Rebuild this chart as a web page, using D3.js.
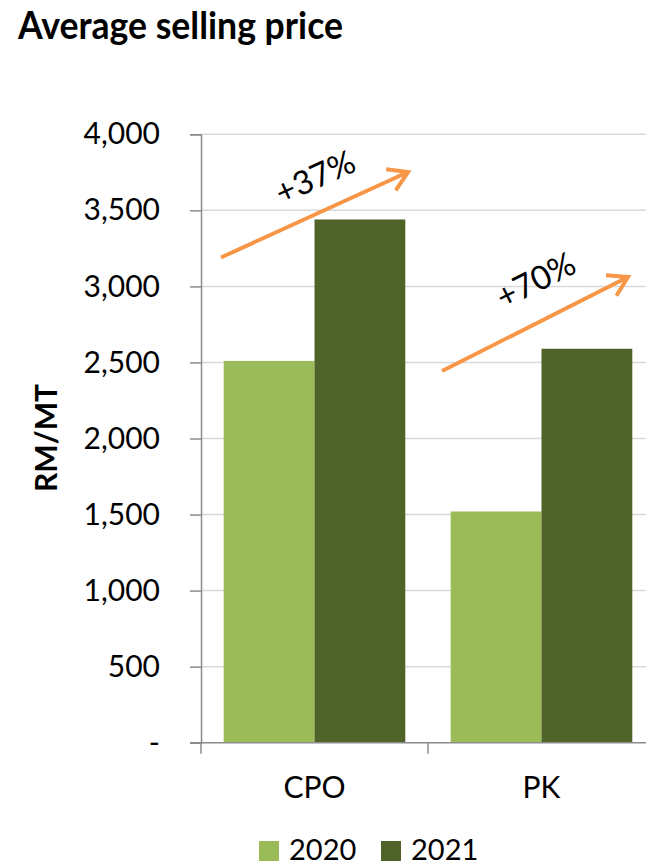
<!DOCTYPE html>
<html>
<head>
<meta charset="utf-8">
<script src="https://cdn.jsdelivr.net/npm/d3@7"></script>
<style>
  html, body { margin: 0; padding: 0; background: #fff; }
  svg { display: block; font-family: Lato, "Open Sans", sans-serif; }
</style>
</head>
<body>
<svg id="chart" width="646" height="866"></svg>
<script>
// Average selling price, RM per metric tonne
const categories = ["CPO", "PK"];
const years = ["2020", "2021"];
const values2020 = [2510, 1520];
const values2021 = [3440, 2590];
const yTicks = [0, 500, 1000, 1500, 2000, 2500, 3000, 3500, 4000];
const yTickLabels = ["-", "500", "1,000", "1,500", "2,000", "2,500", "3,000", "3,500", "4,000"];
const colors = ["#9bbb59", "#4f6228"];

// Growth arrows, anchored in data space: [category, fraction of band, value]
const arrows = [
  { from: ["CPO", 0.088, 3190], to: ["CPO", 0.912, 3752], labelLift: 39 },
  { from: ["PK", 0.062, 2444], to: ["PK", 0.881, 3062], labelLift: 45 }
];

const svg = d3.select("#chart");
const W = 646;

const y = d3.scaleLinear().domain([0, 4000]).range([742.7, 134.3]);
const x = d3.scaleBand().domain(categories).range([201, 655]).paddingInner(0).paddingOuter(0);
const xs = d3.scaleBand().domain(years).range([0, x.bandwidth()]).paddingInner(0).paddingOuter(0.25);

// Title
svg.append("text")
  .attr("x", 18).attr("y", 39)
  .attr("font-size", 38.5).attr("font-weight", 700)
  .attr("textLength", 325).attr("lengthAdjust", "spacingAndGlyphs")
  .attr("fill", "#000")
  .text("Average selling price");

// Gridlines
svg.append("g").selectAll("line")
  .data(yTicks.filter(d => d > 0))
  .join("line")
  .attr("x1", 201).attr("x2", W)
  .attr("y1", d => y(d)).attr("y2", d => y(d))
  .attr("stroke", "#d9d9d9").attr("stroke-width", 1.5);

// Y axis
const yAxis = d3.axisLeft(y).tickValues(yTicks)
  .tickFormat((d, i) => yTickLabels[i]).tickSize(11).tickPadding(30);
const gy = svg.append("g").attr("transform", "translate(201,0)").call(yAxis);
gy.select(".domain").attr("stroke", "#8c8c8c").attr("stroke-width", 1.5);
gy.selectAll(".tick line").attr("stroke", "#8c8c8c").attr("stroke-width", 1.5);
gy.selectAll(".tick text").attr("font-size", 30).attr("fill", "#000")
  .attr("font-family", "Lato, sans-serif");

// Y axis title
svg.append("text")
  .attr("transform", "translate(57,438) rotate(-90)")
  .attr("text-anchor", "middle")
  .attr("font-size", 30).attr("font-weight", 700)
  .text("RM/MT");

// Bars
const rows = categories.map((c, i) => ({ cat: c, vals: [values2020[i], values2021[i]] }));
const groups = svg.append("g").selectAll("g")
  .data(rows).join("g")
  .attr("transform", d => `translate(${x(d.cat)},0)`);
groups.selectAll("rect")
  .data(d => d.vals.map((v, j) => ({ year: years[j], v, j })))
  .join("rect")
  .attr("x", d => xs(d.year))
  .attr("width", xs.bandwidth())
  .attr("y", d => y(d.v))
  .attr("height", d => y(0) - y(d.v))
  .attr("fill", d => colors[d.j]);

// X axis
const gx = svg.append("g").attr("transform", `translate(0,${y(0)})`);
gx.append("line").attr("x1", 190).attr("x2", W).attr("y1", 0).attr("y2", 0)
  .attr("stroke", "#8c8c8c").attr("stroke-width", 1.5);
gx.selectAll(".cat-tick")
  .data([x.range()[0], ...categories.slice(1).map(c => x(c))])
  .join("line").attr("class", "cat-tick")
  .attr("x1", d => d).attr("x2", d => d).attr("y1", 0).attr("y2", 11)
  .attr("stroke", "#8c8c8c").attr("stroke-width", 1.5);
svg.append("g").selectAll("text")
  .data(categories).join("text")
  .attr("x", d => x(d) + xs(years[1]))
  .attr("y", 798)
  .attr("text-anchor", "middle")
  .attr("font-size", 30)
  .text(d => d);

// Growth arrows with percentage labels
const px = p => x(p[0]) + p[1] * x.bandwidth();
const py = p => y(p[2]);
const arrowG = svg.append("g");
arrows.forEach((a, i) => {
  const x1 = px(a.from), y1 = py(a.from), x2 = px(a.to), y2 = py(a.to);
  const ang = Math.atan2(y2 - y1, x2 - x1);
  const head = 22, spread = 0.55;
  const path = `M${x1},${y1}L${x2},${y2}` +
    `M${x2 - head * Math.cos(ang - spread)},${y2 - head * Math.sin(ang - spread)}L${x2},${y2}` +
    `L${x2 - head * Math.cos(ang + spread)},${y2 - head * Math.sin(ang + spread)}`;
  arrowG.append("path").attr("d", path)
    .attr("fill", "none").attr("stroke", "#f79646")
    .attr("stroke-width", 4).attr("stroke-linecap", "butt").attr("stroke-linejoin", "miter");
  const growth = Math.round((values2021[i] / values2020[i] - 1) * 100);
  const tx = (x1 + x2) / 2, ty = (y1 + y2) / 2 - a.labelLift;
  arrowG.append("text")
    .attr("transform", `translate(${tx},${ty}) rotate(${ang * 180 / Math.PI})`)
    .attr("text-anchor", "middle").attr("dominant-baseline", "central")
    .attr("font-size", 33)
    .text(`+${growth}%`);
});

// Legend
const legend = svg.append("g");
const legendX = [259, 381];
years.forEach((yr, j) => {
  legend.append("rect").attr("x", legendX[j]).attr("y", 841).attr("width", 20).attr("height", 20)
    .attr("fill", colors[j]);
  legend.append("text").attr("x", legendX[j] + 30).attr("y", 859.5)
    .attr("font-size", 29).text(yr);
});
</script>
</body>
</html>
